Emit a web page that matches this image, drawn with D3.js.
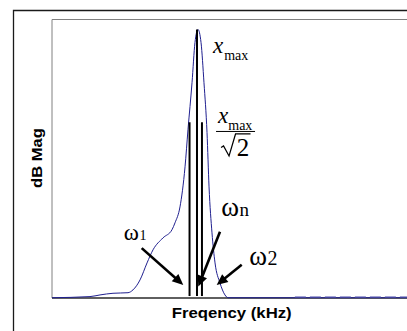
<!DOCTYPE html>
<html>
<head>
<meta charset="utf-8">
<script src="https://cdn.jsdelivr.net/npm/d3@7"></script>
<style>
  body { margin: 0; background: #fff; }
  svg { display: block; }
</style>
</head>
<body>
<div id="chart"></div>
<script>
// 1. ACCESS DATA
const freqs = [0, 4.13, 5.22, 6.63, 8.26, 8.80, 9.57, 10.33, 10.98, 12.07, 13.04, 13.37, 13.91,
  14.46, 14.78, 15.22, 15.54, 15.87, 16.20, 16.52, 16.85, 17.07, 17.39, 17.72, 18.26, 18.80,
  19.13, 26.4, 40]
const mags = [0.1, 0.5, 1.1, 1.7, 1.9, 2.9, 6.5, 12.6, 17.3, 21.6, 24.5, 27.0, 32.7,
  47.1, 60.4, 77.3, 91.7, 96.4, 91.7, 77.3, 59.4, 39.9, 23.4, 12.6, 5.4, 1.1,
  0.1, 0.1, 0.1]
// ripple on the right tail
const tailFreqs = [26.4, 40]
const tailMag = 0.35

// half-power / natural frequency markers
const markerFreqs = [14.95, 15.76, 16.3]
const markerTops = [63.1, 96.4, 63.1]
const markerBottom = 0.7

// arrows: [tailFreq, tailMag, tipFreq, tipMag]
const arrowNames = ["w1", "wn", "w2"]
const arrowCoords = [
  [9.75, 17.9, 14.27, 4.7],
  [18.26, 23.8, 15.9, 4.1],
  [20.62, 11.9, 17.9, 4.7]
]

const dataset = freqs.map((f, i) => ({ f, m: mags[i] }))
const xAccessor = d => d.f
const yAccessor = d => d.m

// 2. DIMENSIONS
const dimensions = {
  width: 407,
  height: 331,
  plotLeft: 52,
  plotRight: 420,
  plotTop: 19.5,
  plotBottom: 298,
}

// 3. DRAW CANVAS
const wrapper = d3.select("#chart")
  .append("svg")
  .attr("width", dimensions.width)
  .attr("height", dimensions.height)

// 4. CREATE SCALES
const xScale = d3.scaleLinear()
  .domain([0, 40])
  .range([dimensions.plotLeft, dimensions.plotRight])
const yScale = d3.scaleLinear()
  .domain([0, 100])
  .range([dimensions.plotBottom, dimensions.plotTop])

// outer frame
wrapper.append("path")
  .attr("d", `M13.5,${dimensions.height} V10.5 H${dimensions.width}`)
  .attr("fill", "none")
  .attr("stroke", "#1a1a1a")
  .attr("stroke-width", 1.3)

// plot frame
wrapper.append("path")
  .attr("d", `M${dimensions.plotLeft},${dimensions.plotBottom} V${dimensions.plotTop} H${dimensions.width}`)
  .attr("fill", "none")
  .attr("stroke", "#808080")
  .attr("stroke-width", 1)

wrapper.append("line")
  .attr("x1", dimensions.plotLeft).attr("x2", dimensions.width)
  .attr("y1", dimensions.plotBottom).attr("y2", dimensions.plotBottom)
  .attr("stroke", "#2a2a2a")
  .attr("stroke-width", 1.3)

// 5. DRAW DATA
const lineGenerator = d3.line()
  .x(d => xScale(xAccessor(d)))
  .y(d => yScale(yAccessor(d)))
  .curve(d3.curveMonotoneX)

wrapper.append("path")
  .datum(dataset)
  .attr("d", lineGenerator)
  .attr("fill", "none")
  .attr("stroke", "#1f1f8f")
  .attr("stroke-width", 1)

wrapper.append("path")
  .datum(tailFreqs.map(f => ({ f, m: tailMag })))
  .attr("d", lineGenerator)
  .attr("fill", "none")
  .attr("stroke", "#4a4aa8")
  .attr("stroke-width", 1.2)
  .attr("stroke-dasharray", "11,4")

// vertical markers
wrapper.selectAll(".marker")
  .data(markerFreqs)
  .enter().append("line")
  .attr("class", "marker")
  .attr("x1", d => xScale(d))
  .attr("x2", d => xScale(d))
  .attr("y1", yScale(markerBottom))
  .attr("y2", (d, i) => yScale(markerTops[i]))
  .attr("stroke", "#000")
  .attr("stroke-width", 2)

// arrows
const headLen = 11
const headHalf = 5
arrowCoords.forEach(a => {
  const x0 = xScale(a[0]), y0 = yScale(a[1])
  const x1 = xScale(a[2]), y1 = yScale(a[3])
  const dx = x1 - x0, dy = y1 - y0
  const len = Math.hypot(dx, dy)
  const ux = dx / len, uy = dy / len
  const bx = x1 - ux * headLen, by = y1 - uy * headLen
  wrapper.append("line")
    .attr("x1", x0).attr("y1", y0)
    .attr("x2", bx + ux * 2).attr("y2", by + uy * 2)
    .attr("stroke", "#000")
    .attr("stroke-width", 2.6)
  wrapper.append("path")
    .attr("d", `M${x1},${y1} L${bx - uy * headHalf},${by + ux * headHalf} L${bx + uy * headHalf},${by - ux * headHalf} Z`)
    .attr("fill", "#000")
})

// 6. DRAW PERIPHERALS
const serif = "'Liberation Serif', 'Times New Roman', serif"

// x_max
const xmax = wrapper.append("text")
  .attr("x", xScale(17.5))
  .attr("y", yScale(88.1))
  .style("font-family", serif)
xmax.append("tspan").attr("font-style", "italic").attr("font-size", 23).text("x")
xmax.append("tspan").attr("font-size", 14).attr("dy", 7).attr("dx", 1).text("max")

// x_max / sqrt(2)
const fx = xScale(19.95)
const fy = yScale(59.8)
const frac = wrapper.append("g").attr("transform", `translate(${fx},${fy})`)
const num = frac.append("text")
  .attr("x", -17.5)
  .attr("y", -8.5)
  .style("font-family", serif)
num.append("tspan").attr("font-style", "italic").attr("font-size", 23).text("x")
num.append("tspan").attr("font-size", 14).attr("dy", 7).attr("dx", 0).text("max")
frac.append("line")
  .attr("x1", -19.5).attr("x2", 19.5)
  .attr("y1", 0).attr("y2", 0)
  .attr("stroke", "#000").attr("stroke-width", 1)
frac.append("path")
  .attr("d", "M-14.5,16 L-12,14.5 L-6.5,24.5 L0,2.5 H15")
  .attr("fill", "none")
  .attr("stroke", "#000")
  .attr("stroke-width", 1.2)
frac.append("text")
  .attr("x", 7.5)
  .attr("y", 25)
  .attr("text-anchor", "middle")
  .attr("font-size", 25)
  .style("font-family", serif)
  .text("2")

// omega labels
const omegaLabels = [
  { f: 7.8, m: 20.9, sub: "1", size: 23, subSize: 14 },
  { f: 18.4, m: 29.5, sub: "n", size: 27, subSize: 19 },
  { f: 21.45, m: 11.9, sub: "2", size: 27, subSize: 20 },
]
omegaLabels.forEach(d => {
  const t = wrapper.append("text")
    .attr("x", xScale(d.f))
    .attr("y", yScale(d.m))
    .style("font-family", serif)
  t.append("tspan").attr("font-size", d.size).text("ω")
  t.append("tspan").attr("font-size", d.subSize).attr("dx", 0.5).text(d.sub)
})

// axis labels
wrapper.append("text")
  .attr("x", 171.7)
  .attr("y", 318)
  .attr("textLength", 120)
  .attr("lengthAdjust", "spacingAndGlyphs")
  .attr("font-size", 14)
  .attr("font-weight", "bold")
  .style("font-family", "'Liberation Sans', Arial, sans-serif")
  .text("Freqency (kHz)")

wrapper.append("text")
  .attr("transform", "translate(41.5,188) rotate(-90)")
  .attr("textLength", 60)
  .attr("lengthAdjust", "spacingAndGlyphs")
  .attr("font-size", 14)
  .attr("font-weight", "bold")
  .style("font-family", "'Liberation Sans', Arial, sans-serif")
  .text("dB Mag")
</script>
</body>
</html>
